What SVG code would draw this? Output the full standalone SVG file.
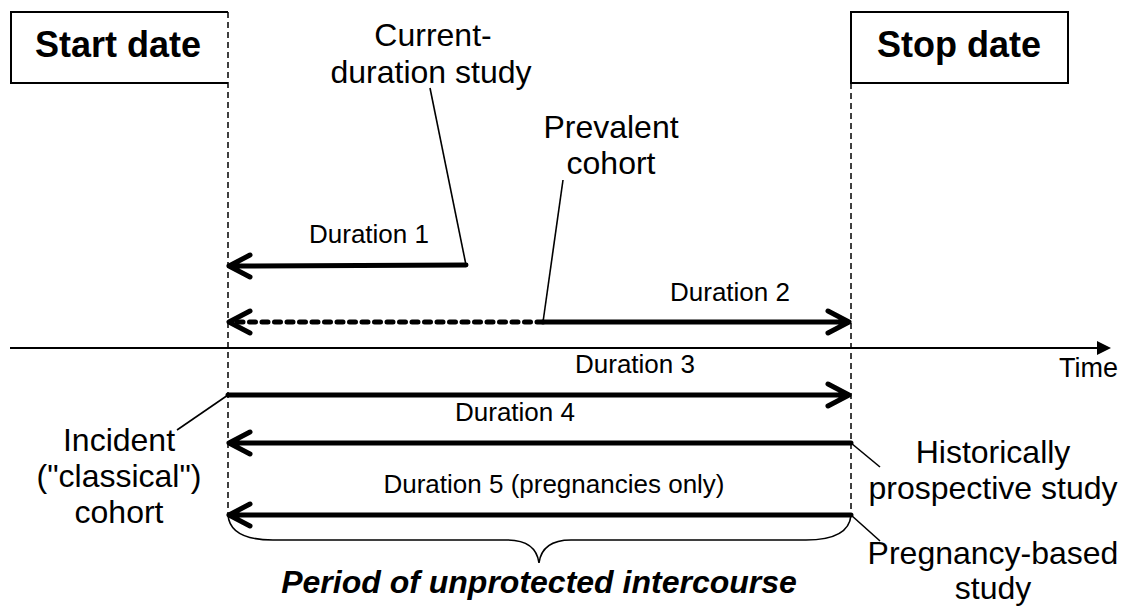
<svg xmlns="http://www.w3.org/2000/svg" width="1127" height="610" viewBox="0 0 1127 610">
<style>
text{font-family:"Liberation Sans",Arial,sans-serif;fill:#000}
.big{font-size:32px;text-anchor:middle}
.dur{font-size:26px;text-anchor:middle}
.title{font-size:36px;font-weight:bold;text-anchor:middle}
.box{fill:#fff;stroke:#000;stroke-width:2}
.guide{fill:none;stroke:#000;stroke-width:1.5;stroke-dasharray:6,4}
.arrow{fill:none;stroke:#000;stroke-width:5;stroke-linecap:round;stroke-linejoin:round}
.leader{fill:none;stroke:#000;stroke-width:1.6}
</style>
<rect width="1127" height="610" fill="#fff"/>
<g id="start-date">
<path class="box" d="M228,12 H11 V83 H228"/>
<text class="title" x="118" y="57">Start date</text>
</g>
<g id="stop-date">
<rect class="box" x="851" y="12" width="217" height="71"/>
<text class="title" x="959" y="57">Stop date</text>
</g>
<g id="current-duration-label">
<text class="big" x="433" y="46">Current-</text>
<text class="big" x="431" y="83">duration study</text>
</g>
<g id="prevalent-label">
<text class="big" x="611" y="138">Prevalent</text>
<text class="big" x="611" y="174">cohort</text>
</g>
<g id="incident-label">
<text class="big" x="119" y="451">Incident</text>
<text class="big" x="119" y="487">("classical")</text>
<text class="big" x="119" y="523">cohort</text>
</g>
<g id="historical-label">
<text class="big" x="993" y="463">Historically</text>
<text class="big" x="993" y="499">prospective study</text>
</g>
<g id="pregnancy-label">
<text class="big" x="993" y="564">Pregnancy-based</text>
<text class="big" x="993" y="599">study</text>
</g>
<g id="duration-labels">
<text class="dur" x="369" y="243">Duration 1</text>
<text class="dur" x="730" y="301">Duration 2</text>
<text class="dur" x="635" y="373">Duration 3</text>
<text class="dur" x="515" y="421">Duration 4</text>
<text class="dur" x="554" y="493">Duration 5 (pregnancies only)</text>
</g>
<g id="time-axis">
<line x1="10" y1="348" x2="1098" y2="348" stroke="#000" stroke-width="2"/>
<polygon points="1097,341 1111,348 1097,355" fill="#000"/>
<text x="1059" y="377" font-size="27">Time</text>
</g>
<g id="period-label">
<path fill="none" stroke="#000" stroke-width="1.6" d="M228,515 Q230,540 273,540 L507,540 C527,540 537,548 539,563 C541,548 551,540 571,540 L806,540 Q849,540 851,515"/>
<text x="539" y="593" font-size="32" font-weight="bold" font-style="italic" text-anchor="middle">Period of unprotected intercourse</text>
</g>
<g id="connectors">
<line class="guide" x1="228" y1="12" x2="228" y2="515"/>
<line class="guide" x1="851" y1="83" x2="851" y2="515"/>
<path class="arrow" d="M466,265 L230,266 M250,255 L229,266 L250,277"/>
<path class="arrow" d="M543,322 L236,322" stroke-dasharray="6,6.5" stroke-linecap="butt"/>
<path class="arrow" d="M250,311 L229,322 L250,333"/>
<path class="arrow" d="M543,322 L849,322 M828,311 L849,322 L828,333"/>
<path class="arrow" d="M228,395 L849,395 M828,384 L849,395 L828,406"/>
<path class="arrow" d="M851,443 L230,443 M250,432 L229,443 L250,454"/>
<path class="arrow" d="M851,515 L230,515 M250,504 L229,515 L250,526"/>
<line class="leader" x1="430" y1="88" x2="466" y2="265"/>
<line class="leader" x1="563" y1="180" x2="543" y2="322"/>
<line class="leader" x1="228" y1="395" x2="177" y2="430"/>
<line class="leader" x1="851" y1="443" x2="880" y2="467"/>
<line class="leader" x1="851" y1="515" x2="880" y2="541"/>
</g>
</svg>
